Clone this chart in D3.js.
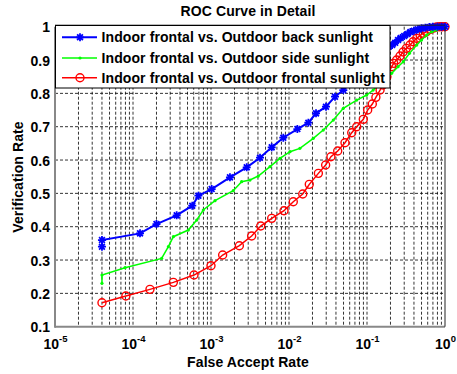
<!DOCTYPE html>
<html>
<head>
<meta charset="utf-8">
<script src="https://cdn.jsdelivr.net/npm/d3@7/dist/d3.min.js"></script>
<style>
html,body{margin:0;padding:0;background:#fff;}
svg{display:block;font-family:"Liberation Sans",Arial,sans-serif;font-weight:bold;}
</style>
</head>
<body>
<svg id="chart" width="457" height="374"></svg>
<script>
// ---- data ----
const title = "ROC Curve in Detail";
const xLabel = "False Accept Rate";
const yLabel = "Verification Rate";
const seriesNames = [
  "Indoor frontal vs. Outdoor back sunlight",
  "Indoor frontal vs. Outdoor side sunlight",
  "Indoor frontal vs. Outdoor frontal sunlight"
];
const seriesColors = ["#0000ff", "#00ff00", "#ff0000"];
const xTicks = [1e-5, 1e-4, 1e-3, 1e-2, 1e-1, 1];
const xTickExponents = ["-5", "-4", "-3", "-2", "-1", "0"];
const yTicks = [0.1, 0.2, 0.3, 0.4, 0.5, 0.6, 0.7, 0.8, 0.9, 1.0];
const yTickLabels = ["0.1", "0.2", "0.3", "0.4", "0.5", "0.6", "0.7", "0.8", "0.9", "1"];

// back sunlight (blue, '*')
const backFAR = [4e-5, 4e-5, 1.23e-4, 2.0e-4, 3.63e-4, 5.75e-4, 6.9e-4, 1.02e-3, 1.75e-3, 2.87e-3,
  4.25e-3, 6.0e-3, 8.45e-3, 1.28e-2, 1.77e-2, 2.22e-2, 2.98e-2, 3.89e-2, 4.97e-2,
  0.065, 0.08, 0.1, 0.13, 0.16, 0.19, 0.21, 0.23, 0.25, 0.27, 0.3, 0.33, 0.36, 0.4, 0.45, 0.5,
  0.56, 0.63, 0.7, 0.8, 0.9, 1.0];
const backVR = [0.34, 0.36, 0.38, 0.408, 0.434, 0.463, 0.493, 0.513, 0.548, 0.578,
  0.607, 0.638, 0.667, 0.693, 0.712, 0.740, 0.760, 0.790, 0.810,
  0.835, 0.86, 0.88, 0.905, 0.925, 0.94, 0.945, 0.952, 0.96, 0.966, 0.972, 0.978, 0.984, 0.988, 0.992, 0.995,
  0.997, 0.999, 1.0, 1.0, 1.0, 1.0];

// side sunlight (green, '.')
const sideFAR = [4e-5, 4e-5, 7.9e-5, 2.33e-4, 2.84e-4, 3.29e-4, 5.12e-4, 6.56e-4, 7.97e-4, 1.125e-3,
  1.93e-3, 2.47e-3, 3.16e-3, 4.04e-3, 5.71e-3, 7.67e-3, 1.03e-2, 1.38e-2, 2.05e-2, 2.75e-2,
  3.7e-2, 4.97e-2, 7.38e-2, 9.9e-2, 0.12, 0.15, 0.18, 0.207, 0.25, 0.292, 0.35, 0.434, 0.5,
  0.582, 0.68, 0.78, 0.9, 1.0];
const sideVR = [0.23, 0.255, 0.277, 0.305, 0.34, 0.37, 0.39, 0.42, 0.45, 0.478,
  0.508, 0.535, 0.54, 0.552, 0.58, 0.605, 0.625, 0.635, 0.665, 0.69,
  0.72, 0.755, 0.78, 0.795, 0.81, 0.83, 0.85, 0.86, 0.88, 0.895, 0.92, 0.945, 0.96,
  0.975, 0.985, 0.99, 0.995, 0.998];

// frontal sunlight (red, 'o')
const frontFAR = [4e-5, 8.1e-5, 1.65e-4, 3.29e-4, 6.05e-4, 1.0e-3, 1.41e-3, 2.31e-3, 3.32e-3, 4.34e-3,
  6.0e-3, 8.63e-3, 1.135e-2, 1.5e-2, 1.82e-2, 2.38e-2, 2.95e-2, 3.45e-2, 4.21e-2, 5.22e-2,
  6.37e-2, 7.38e-2, 8.97e-2, 0.102, 0.117, 0.13, 0.147, 0.16, 0.18, 0.207, 0.22, 0.24, 0.265,
  0.29, 0.32, 0.356, 0.39, 0.434, 0.48, 0.53, 0.58, 0.65, 0.72, 0.78, 0.85, 0.92, 1.0];
const frontVR = [0.172, 0.192, 0.212, 0.233, 0.255, 0.283, 0.315, 0.343, 0.372, 0.402,
  0.425, 0.448, 0.475, 0.498, 0.527, 0.56, 0.585, 0.61, 0.627, 0.652,
  0.682, 0.70, 0.722, 0.75, 0.768, 0.788, 0.81, 0.825, 0.85, 0.88, 0.89, 0.90, 0.912,
  0.924, 0.935, 0.945, 0.955, 0.965, 0.974, 0.98, 0.985, 0.992, 0.996, 0.999, 1.0, 1.0, 1.0];

const series = [
  {name: seriesNames[0], color: seriesColors[0], marker: "star", far: backFAR, vr: backVR, width: 2},
  {name: seriesNames[1], color: seriesColors[1], marker: "dot", far: sideFAR, vr: sideVR, width: 1.5},
  {name: seriesNames[2], color: seriesColors[2], marker: "circle", far: frontFAR, vr: frontVR, width: 1.5}
];

// ---- layout ----
const FONT = "Liberation Sans, Arial, sans-serif";
const FS = 14, LS = 0.1;
const svg = d3.select("#chart");
const L = 55, R = 445, T = 26.7, B = 326.7;
const x = d3.scaleLog().domain([1e-5, 1]).range([L, R]);
const y = d3.scaleLinear().domain([0.1, 1]).range([B, T]);

svg.append("rect").attr("width", 457).attr("height", 374).attr("fill", "#fff");

// grid
const grid = svg.append("g").attr("stroke", "#000").attr("stroke-width", 0.8)
  .attr("stroke-dasharray", "3,2").attr("fill", "none");
const minor = [];
for (let e = -5; e < 0; e++) for (let m = 1; m <= 9; m++) minor.push(m * Math.pow(10, e));
grid.selectAll("line.vx").data(minor.filter(v => v > 1e-5)).join("line")
  .attr("x1", d => x(d)).attr("x2", d => x(d)).attr("y1", T).attr("y2", B);
grid.selectAll("line.hy").data(yTicks.slice(1, -1)).join("line")
  .attr("x1", L).attr("x2", R).attr("y1", d => y(d)).attr("y2", d => y(d));

// axes (labels via d3 axis)
const yAxis = d3.axisLeft(y).tickValues(yTicks).tickFormat((d, i) => yTickLabels[i]).tickSize(0).tickPadding(5);
const gy = svg.append("g").attr("transform", `translate(${L},0)`).call(yAxis);
gy.select(".domain").remove();
gy.selectAll("text").attr("font-size", FS).attr("font-weight", "bold").attr("fill", "#000")
  .attr("font-family", FONT).attr("dy", "0.36em");

const xAxis = d3.axisBottom(x).tickValues(xTicks).tickFormat(() => "").tickSize(0).tickPadding(0);
const gx = svg.append("g").attr("transform", `translate(0,${B})`).call(xAxis);
gx.select(".domain").remove();
gx.selectAll(".tick text").each(function (d, i) {
  const t = d3.select(this);
  t.text(null).attr("y", 22.5).attr("dy", 0).attr("font-size", FS).attr("font-weight", "bold")
    .attr("fill", "#000").attr("font-family", FONT).attr("text-anchor", "middle");
  t.append("tspan").text("10");
  t.append("tspan").attr("dy", -7.5).attr("font-size", 9.5).text(xTickExponents[i]);
});

// lines + markers
const line = d3.line().x(d => x(d[0])).y(d => y(d[1]));
const starPath = r => { const a = r * 0.72; return `M${-r},0L${r},0M0,${-r}L0,${r}M${-a},${-a}L${a},${a}M${-a},${a}L${a},${-a}`; };
function drawMarker(g, s, px, py) {
  if (s.marker === "star") {
    g.append("path").attr("d", starPath(4)).attr("transform", `translate(${px},${py})`)
      .attr("stroke", s.color).attr("stroke-width", 1.8).attr("fill", "none");
  } else if (s.marker === "circle") {
    g.append("circle").attr("cx", px).attr("cy", py).attr("r", 4)
      .attr("stroke", s.color).attr("stroke-width", 1.4).attr("fill", "none");
  } else {
    g.append("circle").attr("cx", px).attr("cy", py).attr("r", 1.6).attr("fill", s.color);
  }
}
const plotG = svg.append("g");
series.slice().reverse().forEach(s => {
  const pts = s.far.map((f, i) => [f, s.vr[i]]);
  const g = plotG.append("g");
  g.append("path").datum(pts).attr("d", line).attr("fill", "none")
    .attr("stroke", s.color).attr("stroke-width", s.width);
  pts.forEach(p => drawMarker(g, s, x(p[0]), y(p[1])));
});

// axes box
svg.append("line").attr("x1", L).attr("x2", L).attr("y1", T).attr("y2", B + 1).attr("stroke", "#888").attr("stroke-width", 2);
svg.append("line").attr("x1", L).attr("x2", R).attr("y1", B).attr("y2", B).attr("stroke", "#888").attr("stroke-width", 2);
svg.append("line").attr("x1", R).attr("x2", R).attr("y1", T).attr("y2", B).attr("stroke", "#222").attr("stroke-width", 1);
svg.append("line").attr("x1", L).attr("x2", R).attr("y1", T - 1.5).attr("y2", T - 1.5).attr("stroke", "#222").attr("stroke-width", 1);

// legend
const lg = svg.append("g");
lg.append("rect").attr("x", 55.5).attr("y", 25.5).attr("width", 334.5).attr("height", 62.5)
  .attr("fill", "#fff").attr("stroke", "#000").attr("stroke-width", 1);
const rowY = [37.3, 58, 77.7];
series.forEach((s, i) => {
  lg.append("line").attr("x1", 62).attr("x2", 97).attr("y1", rowY[i]).attr("y2", rowY[i])
    .attr("stroke", s.color).attr("stroke-width", s.width);
  drawMarker(lg, s, 80, rowY[i]);
  lg.append("text").attr("x", 101.5).attr("y", rowY[i] + 5).attr("font-size", FS)
    .attr("letter-spacing", LS).attr("fill", "#000").text(s.name);
});

// titles
svg.append("text").attr("x", 248).attr("y", 15.5).attr("text-anchor", "middle").attr("font-size", FS).attr("letter-spacing", LS).text(title);
svg.append("text").attr("x", 248).attr("y", 366.5).attr("text-anchor", "middle").attr("font-size", FS).attr("letter-spacing", LS).text(xLabel);
svg.append("text").attr("transform", "translate(23,177) rotate(-90)").attr("text-anchor", "middle").attr("font-size", FS).attr("letter-spacing", LS).text(yLabel);
</script>
</body>
</html>
